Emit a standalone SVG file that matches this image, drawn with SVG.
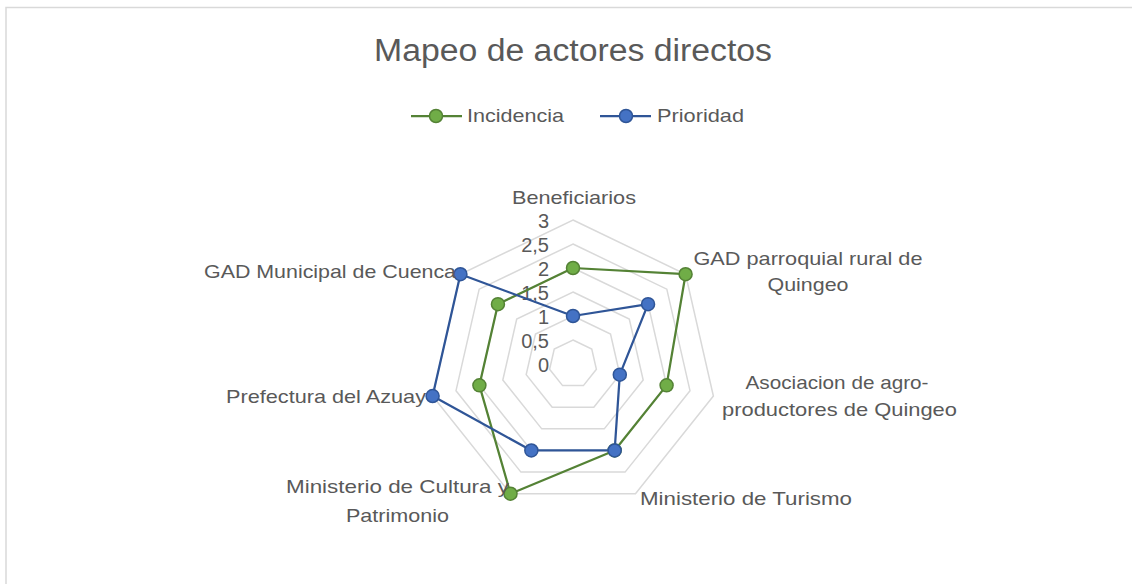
<svg xmlns="http://www.w3.org/2000/svg" width="1132" height="584" viewBox="0 0 1132 584">
<style>
text{font-family:"Liberation Sans",Arial,sans-serif;fill:#595959}
.lbl{font-size:19px}
.tick{font-size:20px;text-anchor:end}
.grid{fill:none;stroke:#d9d9d9;stroke-width:1.5}
.inc{fill:none;stroke:#548235;stroke-width:2.25;stroke-linejoin:round}
.pri{fill:none;stroke:#2f5597;stroke-width:2.25;stroke-linejoin:round}
.mi{fill:#70ad47;stroke:#548235;stroke-width:1.5}
.mp{fill:#4472c4;stroke:#2f5597;stroke-width:1.5}
</style>
<rect x="0" y="0" width="1132" height="584" fill="#ffffff"/>
<rect x="6" y="7.5" width="1200" height="700" fill="none" stroke="#d9d9d9" stroke-width="1.5"/>
<g id="title"><text x="573" y="61" font-size="31" text-anchor="middle" textLength="398" lengthAdjust="spacingAndGlyphs">Mapeo de actores directos</text></g>
<g id="legend">
<line x1="411" y1="116" x2="462" y2="116" class="inc"/>
<circle cx="436" cy="116" r="6.5" class="mi"/>
<text x="467" y="122" class="lbl" textLength="97" lengthAdjust="spacingAndGlyphs">Incidencia</text>
<line x1="600" y1="116" x2="651" y2="116" class="pri"/>
<circle cx="626" cy="116" r="6.5" class="mp"/>
<text x="657" y="122" class="lbl" textLength="87" lengthAdjust="spacingAndGlyphs">Prioridad</text>
</g>
<g id="grid">
<polygon class="grid" points="573,340 591.76,349.04 596.40,369.34 583.41,385.62 562.59,385.62 549.60,369.34 554.24,349.04"/>
<polygon class="grid" points="573,316 610.53,334.07 619.80,374.68 593.83,407.25 552.17,407.25 526.20,374.68 535.47,334.07"/>
<polygon class="grid" points="573,292 629.29,319.11 643.19,380.02 604.24,428.87 541.76,428.87 502.81,380.02 516.71,319.11"/>
<polygon class="grid" points="573,268 648.06,304.14 666.59,385.36 614.65,450.49 531.35,450.49 479.41,385.36 497.94,304.14"/>
<polygon class="grid" points="573,244 666.82,289.18 689.99,390.70 625.07,472.12 520.93,472.12 456.01,390.70 479.18,289.18"/>
<polygon class="grid" points="573,220 685.58,274.22 713.39,396.04 635.48,493.74 510.52,493.74 432.61,396.04 460.42,274.22"/>
</g>
<g id="ticks">
<text class="tick" x="549" y="228">3</text>
<text class="tick" x="549" y="252">2,5</text>
<text class="tick" x="549" y="276">2</text>
<text class="tick" x="549" y="300">1,5</text>
<text class="tick" x="549" y="324">1</text>
<text class="tick" x="549" y="348">0,5</text>
<text class="tick" x="549" y="372">0</text>
</g>
<g id="series-incidencia">
<polygon class="inc" points="573,268 685.58,274.22 666.59,385.36 614.65,450.49 510.52,493.74 479.41,385.36 497.94,304.14"/>
<circle class="mi" cx="573" cy="268" r="6.5"/>
<circle class="mi" cx="685.58" cy="274.22" r="6.5"/>
<circle class="mi" cx="666.59" cy="385.36" r="6.5"/>
<circle class="mi" cx="614.65" cy="450.49" r="6.5"/>
<circle class="mi" cx="510.52" cy="493.74" r="6.5"/>
<circle class="mi" cx="479.41" cy="385.36" r="6.5"/>
<circle class="mi" cx="497.94" cy="304.14" r="6.5"/>
</g>
<g id="series-prioridad">
<polygon class="pri" points="573,316 648.06,304.14 619.80,374.68 614.65,450.49 531.35,450.49 432.61,396.04 460.42,274.22"/>
<circle class="mp" cx="573" cy="316" r="6.5"/>
<circle class="mp" cx="648.06" cy="304.14" r="6.5"/>
<circle class="mp" cx="619.80" cy="374.68" r="6.5"/>
<circle class="mp" cx="614.65" cy="450.49" r="6.5"/>
<circle class="mp" cx="531.35" cy="450.49" r="6.5"/>
<circle class="mp" cx="432.61" cy="396.04" r="6.5"/>
<circle class="mp" cx="460.42" cy="274.22" r="6.5"/>
</g>
<g id="axis-labels">
<g id="lbl-beneficiarios"><text class="lbl" x="574" y="204" text-anchor="middle" textLength="124" lengthAdjust="spacingAndGlyphs">Beneficiarios</text></g>
<g id="lbl-gad-parroquial">
<text class="lbl" x="808" y="265" text-anchor="middle" textLength="229" lengthAdjust="spacingAndGlyphs">GAD parroquial rural de</text>
<text class="lbl" x="808" y="291" text-anchor="middle" textLength="81" lengthAdjust="spacingAndGlyphs">Quingeo</text>
</g>
<g id="lbl-asociacion">
<text class="lbl" x="837" y="389" text-anchor="middle" textLength="183" lengthAdjust="spacingAndGlyphs">Asociacion de agro-</text>
<text class="lbl" x="839.5" y="416" text-anchor="middle" textLength="235" lengthAdjust="spacingAndGlyphs">productores de Quingeo</text>
</g>
<g id="lbl-turismo"><text class="lbl" x="640" y="505" textLength="212" lengthAdjust="spacingAndGlyphs">Ministerio de Turismo</text></g>
<g id="lbl-cultura">
<text class="lbl" x="397.5" y="493" text-anchor="middle" textLength="223" lengthAdjust="spacingAndGlyphs">Ministerio de Cultura y</text>
<text class="lbl" x="397.5" y="522" text-anchor="middle" textLength="103" lengthAdjust="spacingAndGlyphs">Patrimonio</text>
</g>
<g id="lbl-prefectura"><text class="lbl" x="226" y="403" textLength="200" lengthAdjust="spacingAndGlyphs">Prefectura del Azuay</text></g>
<g id="lbl-gad-municipal"><text class="lbl" x="204" y="278" textLength="252" lengthAdjust="spacingAndGlyphs">GAD Municipal de Cuenca</text></g>
</g>
</svg>
